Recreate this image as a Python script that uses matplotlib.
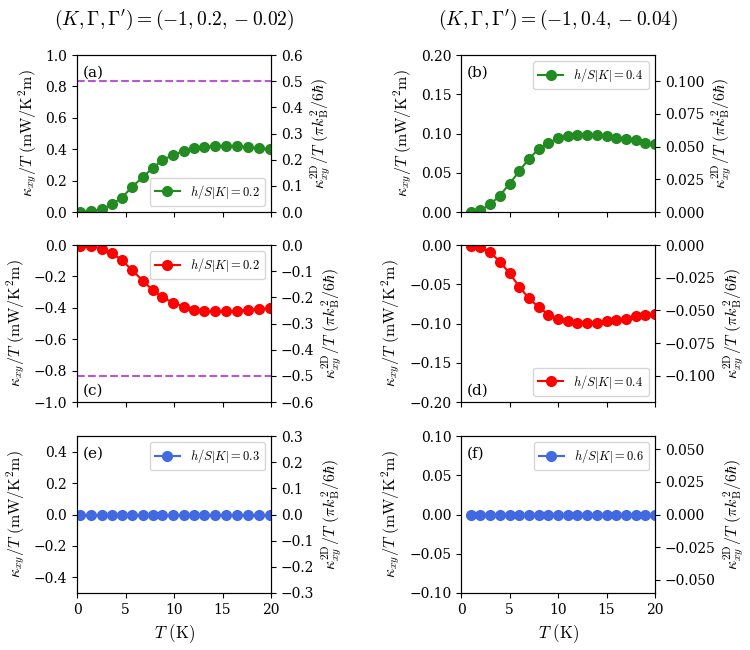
import numpy as np
import matplotlib
matplotlib.use("Agg")
import matplotlib.pyplot as plt

plt.rcParams['font.family'] = 'serif'
plt.rcParams['mathtext.fontset'] = 'cm'
plt.rcParams['font.size'] = 10

# Temperaturas (K)
T_left = [0.34, 1.47, 2.56, 3.58, 4.62, 5.67, 6.8, 7.8, 8.8, 9.9, 11.0,
          12.1, 13.1, 14.2, 15.4, 16.5, 17.6, 18.8, 19.9]
T_right = list(range(1, 21))

# kappa_xy/T en mW/K^2m
k_a = [0.0, 0.006, 0.017, 0.049, 0.091, 0.160, 0.223, 0.281, 0.330, 0.364,
       0.389, 0.409, 0.417, 0.421, 0.423, 0.419, 0.413, 0.406, 0.400]
k_c = [-0.003, -0.004, -0.026, -0.051, -0.096, -0.160, -0.228, -0.287, -0.334,
       -0.366, -0.394, -0.413, -0.419, -0.423, -0.423, -0.419, -0.413, -0.409, -0.402]
k_e = [0.0] * 19
k_b = [0.0, 0.002, 0.0098, 0.0209, 0.036, 0.052, 0.068, 0.080, 0.088, 0.094,
       0.0974, 0.0987, 0.0987, 0.0987, 0.097, 0.0949, 0.0936, 0.0915, 0.0885, 0.0864]
k_d = [-0.0017, -0.002, -0.0094, -0.021, -0.036, -0.053, -0.068, -0.079, -0.0885,
       -0.0936, -0.0974, -0.0987, -0.0987, -0.0987, -0.0974, -0.0957, -0.0936,
       -0.091, -0.0885, -0.0877]
k_f = [0.0] * 20

titles = [r"$(K,\Gamma,\Gamma')=(-1,0.2,-0.02)$", r"$(K,\Gamma,\Gamma')=(-1,0.4,-0.04)$"]
ratio = 0.6  # escala eje derecho / eje izquierdo

paneles = [
    # (x, y, color, h, letra, ylim, yticks, ryticks, leg_loc, letra_abajo, linea)
    (T_left, k_a, 'forestgreen', 0.2, '(a)', (0, 1.0), [0, 0.2, 0.4, 0.6, 0.8, 1.0],
     [0, 0.1, 0.2, 0.3, 0.4, 0.5, 0.6], 'lower right', False, 0.5),
    (T_right, k_b, 'forestgreen', 0.4, '(b)', (0, 0.2), [0, 0.05, 0.10, 0.15, 0.20],
     [0, 0.025, 0.05, 0.075, 0.1], 'upper right', False, None),
    (T_left, k_c, 'red', 0.2, '(c)', (-1.0, 0), [-1.0, -0.8, -0.6, -0.4, -0.2, 0],
     [-0.6, -0.5, -0.4, -0.3, -0.2, -0.1, 0], 'upper right', True, -0.5),
    (T_right, k_d, 'red', 0.4, '(d)', (-0.2, 0), [-0.2, -0.15, -0.1, -0.05, 0],
     [-0.1, -0.075, -0.05, -0.025, 0], 'lower right', True, None),
    (T_left, k_e, 'royalblue', 0.3, '(e)', (-0.5, 0.5), [-0.4, -0.2, 0, 0.2, 0.4],
     [-0.3, -0.2, -0.1, 0, 0.1, 0.2, 0.3], 'upper right', False, None),
    (T_right, k_f, 'royalblue', 0.6, '(f)', (-0.1, 0.1), [-0.1, -0.05, 0, 0.05, 0.1],
     [-0.05, -0.025, 0, 0.025, 0.05], 'upper right', False, None),
]

fig = plt.figure(figsize=(7.5, 6.5), dpi=100)
lefts = [0.1027, 0.6147]
bottoms = [0.6738, 0.3815, 0.0877]
w, h_ax = 0.2587, 0.2415

for i, p in enumerate(paneles):
    x, y, col, hval, letra, ylim, yt, ryt, loc, abajo, linea = p
    fila, colu = i // 2, i % 2
    ax = fig.add_axes([lefts[colu], bottoms[fila], w, h_ax])
    ax.plot(x, y, '-o', color=col, markersize=7, lw=1.5,
            label=r"$h/S|K|=%s$" % hval)
    ax.set_xlim(0, 20)
    ax.set_xticks([0, 5, 10, 15, 20])
    ax.set_ylim(*ylim)
    ax.set_yticks(yt)
    ax.set_ylabel(r"$\kappa_{xy}/T\ (\mathrm{mW/K^2m})$", fontsize=11.5)
    if fila == 2:
        ax.set_xlabel(r"$T\ (\mathrm{K})$", fontsize=12)
    else:
        ax.set_xticklabels([])
    if fila == 0:
        ax.set_title(titles[colu], fontsize=14, pad=22)
    ax.legend(loc=loc, fontsize=9)
    if abajo:
        ax.text(0.03, 0.05, letra, transform=ax.transAxes, fontsize=11)
    else:
        ax.text(0.03, 0.86, letra, transform=ax.transAxes, fontsize=11)

    ax2 = ax.twinx()
    ax2.set_ylim(ylim[0] * ratio, ylim[1] * ratio)
    ax2.set_yticks(ryt)
    ax2.set_ylabel(r"$\kappa_{xy}^{\rm 2D}/T\ (\pi k_{\rm B}^2/6\hbar)$", fontsize=11.5)
    if linea is not None:
        ax2.axhline(linea, color='mediumorchid', ls='--', lw=1.5)

plt.savefig("out.png", dpi=100)
